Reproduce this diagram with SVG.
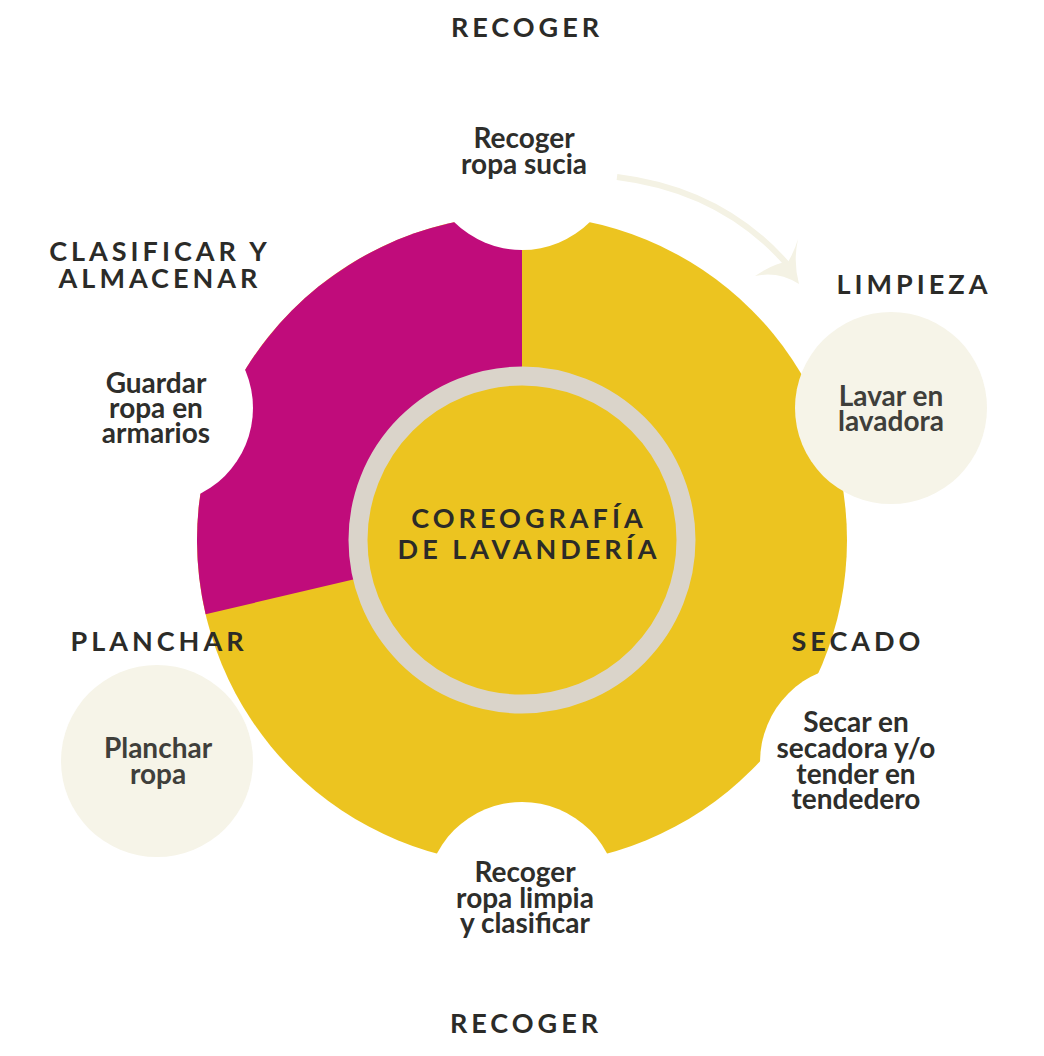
<svg xmlns="http://www.w3.org/2000/svg" width="1044" height="1056" viewBox="0 0 1044 1056">
<style>
.hd{font-family:Lato,"Liberation Sans",sans-serif;font-weight:700;font-size:27px;letter-spacing:4px;fill:#2b2b28;text-anchor:middle}
.bd{font-family:Lato,"Liberation Sans",sans-serif;font-weight:700;font-size:28px;fill:#2e2e2b;text-anchor:middle}
.bg{fill:#3f3f3b}
.white{fill:#ffffff}
.beige{fill:#f6f4e8}
</style>
<rect width="1044" height="1056" fill="#ffffff"/>
<g id="wheel">
<circle cx="522" cy="540" r="325" fill="#ecc420"/>
<path d="M522,540 L522,215 A325,325 0 0 0 205.6,614.2 Z" fill="#c00c7b"/>
</g>
<g id="node-recoger-top">
<circle class="white" cx="522" cy="154" r="96"/>
<text class="bd"><tspan x="524" y="148">Recoger</tspan><tspan x="524" y="174">ropa sucia</tspan></text>
</g>
<g id="node-limpieza">
<circle class="beige" cx="891" cy="408" r="96"/>
<text class="bd bg"><tspan x="891" y="406">Lavar en</tspan><tspan x="891" y="431">lavadora</tspan></text>
</g>
<g id="node-secado">
<circle class="white" cx="857" cy="762" r="97"/>
<text class="bd"><tspan x="856" y="732">Secar en</tspan><tspan x="856" y="758">secadora y/o</tspan><tspan x="856" y="784">tender en</tspan><tspan x="856" y="809">tendedero</tspan></text>
</g>
<g id="node-recoger-bottom">
<circle class="white" cx="522" cy="898" r="96"/>
<text class="bd"><tspan x="525" y="882">Recoger</tspan><tspan x="525" y="908">ropa limpia</tspan><tspan x="525" y="933">y clasificar</tspan></text>
</g>
<g id="node-planchar">
<circle class="beige" cx="157" cy="761" r="96"/>
<text class="bd bg"><tspan x="158" y="758">Planchar</tspan><tspan x="158" y="784">ropa</tspan></text>
</g>
<g id="node-almacenar">
<circle class="white" cx="157" cy="408" r="96"/>
<text class="bd"><tspan x="156" y="393">Guardar</tspan><tspan x="156" y="418">ropa en</tspan><tspan x="156" y="443">armarios</tspan></text>
</g>
<g id="node-center">
<circle cx="522" cy="540" r="164" fill="#ecc420" stroke="#dad4ca" stroke-width="19"/>
<text class="hd"><tspan x="529" y="528">COREOGRAFÍA</tspan><tspan x="529" y="559">DE LAVANDERÍA</tspan></text>
</g>
<g id="headers">
<text class="hd" x="527" y="37">RECOGER</text>
<text class="hd" x="914" y="294">LIMPIEZA</text>
<text class="hd"><tspan x="160" y="261">CLASIFICAR Y</tspan><tspan x="160" y="288">ALMACENAR</tspan></text>
<text class="hd" x="159" y="651">PLANCHAR</text>
<text class="hd" x="858" y="651">SECADO</text>
<text class="hd" x="526" y="1033">RECOGER</text>
</g>
<g id="connectors">
<path d="M617,177 Q722,190 787,264" fill="none" stroke="#f4f2e4" stroke-width="6"/>
<path d="M799,284 Q778,271 755,276 Q776,262 788,262 Q795,250 798,239 Q793,262 799,284 Z" fill="#f4f2e4"/>
</g>
</svg>
